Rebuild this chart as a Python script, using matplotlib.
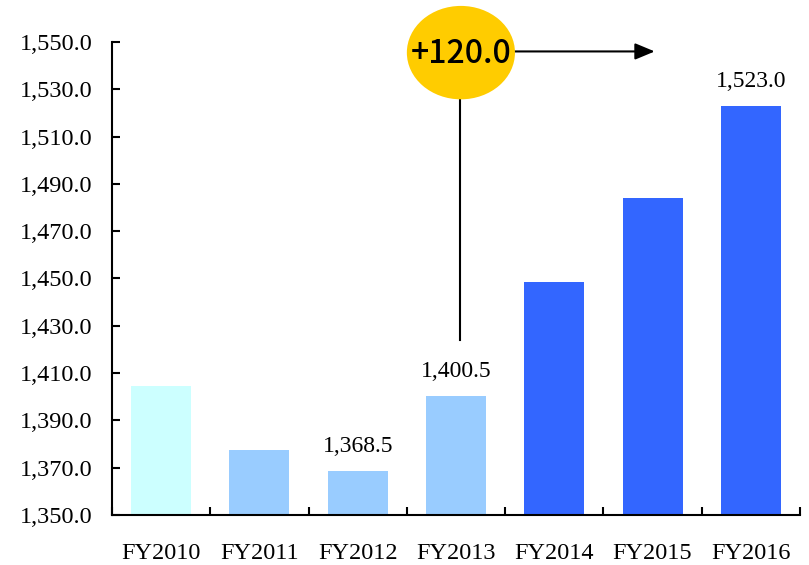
import matplotlib
matplotlib.use("Agg")
import matplotlib.pyplot as plt
from matplotlib.patches import Ellipse
from matplotlib.ticker import FixedLocator, FuncFormatter
import numpy as np

years = ["FY2010", "FY2011", "FY2012", "FY2013", "FY2014", "FY2015", "FY2016"]
values = [1404.5, 1377.5, 1368.5, 1400.5, 1448.5, 1484.0, 1523.0]
colors = ["#CCFFFF", "#99CCFF", "#99CCFF", "#99CCFF", "#3366FF", "#3366FF", "#3366FF"]
labelled = {2: "1,368.5", 3: "1,400.5", 6: "1,523.0"}
y_ticks = [1350, 1370, 1390, 1410, 1430, 1450, 1470, 1490, 1510, 1530, 1550]
growth_text = "+120.0"

serif = "Liberation Serif"

fig = plt.figure(figsize=(8.09, 5.65), dpi=100)
ax = fig.add_axes([0.1384, 0.0885, 0.8505, 0.8372])

x = np.arange(len(years))
ax.bar(x, values, width=0.61, color=colors, zorder=2)

for i, txt in labelled.items():
    ax.annotate(txt, (x[i], values[i]), xytext=(0, 10), textcoords="offset points",
                ha="center", va="bottom", fontsize=17, family=serif)

ax.set_xlim(-0.5, len(years) - 0.5)
ax.set_ylim(1350, 1550)

ax.set_yticks(y_ticks)
ax.yaxis.set_major_formatter(FuncFormatter(lambda v, p: f"{v:,.1f}"))
ax.tick_params(axis="y", direction="in", length=6, width=1.5, pad=14,
               labelsize=17.5)

ax.set_xticks(x)
ax.set_xticklabels(years)
ax.xaxis.set_minor_locator(FixedLocator(np.arange(len(years) + 1) - 0.5))
ax.tick_params(axis="x", which="major", length=0, pad=20, labelsize=17.5)
ax.tick_params(axis="x", which="minor", direction="in", length=6, width=1.5)

for lab in ax.get_xticklabels() + ax.get_yticklabels():
    lab.set_family(serif)

for s in ["top", "right"]:
    ax.spines[s].set_visible(False)
for s in ["left", "bottom"]:
    ax.spines[s].set_linewidth(1.5)

# growth callout: vertical leader, arrow to FY2015, and the yellow badge
ax.plot([3.04, 3.04], [1424, 1540], color="black", lw=1.5, clip_on=False, zorder=3)
ax.annotate("", xy=(5.05, 1546), xytext=(3.3, 1546),
            arrowprops=dict(arrowstyle="-|>,head_length=1.2,head_width=0.5",
                            color="black", lw=1.5),
            annotation_clip=False, zorder=3)
ax.add_patch(Ellipse((3.05, 1545.5), 1.1, 39.5, facecolor="#FFCC00",
                     edgecolor="none", clip_on=False, zorder=4))
ax.text(3.05, 1545.0, growth_text, ha="center", va="center", fontsize=23,
        weight="medium", family=["Noto Sans CJK JP", "DejaVu Sans"],
        zorder=5, clip_on=False)

fig.savefig("out.png", dpi=100)
